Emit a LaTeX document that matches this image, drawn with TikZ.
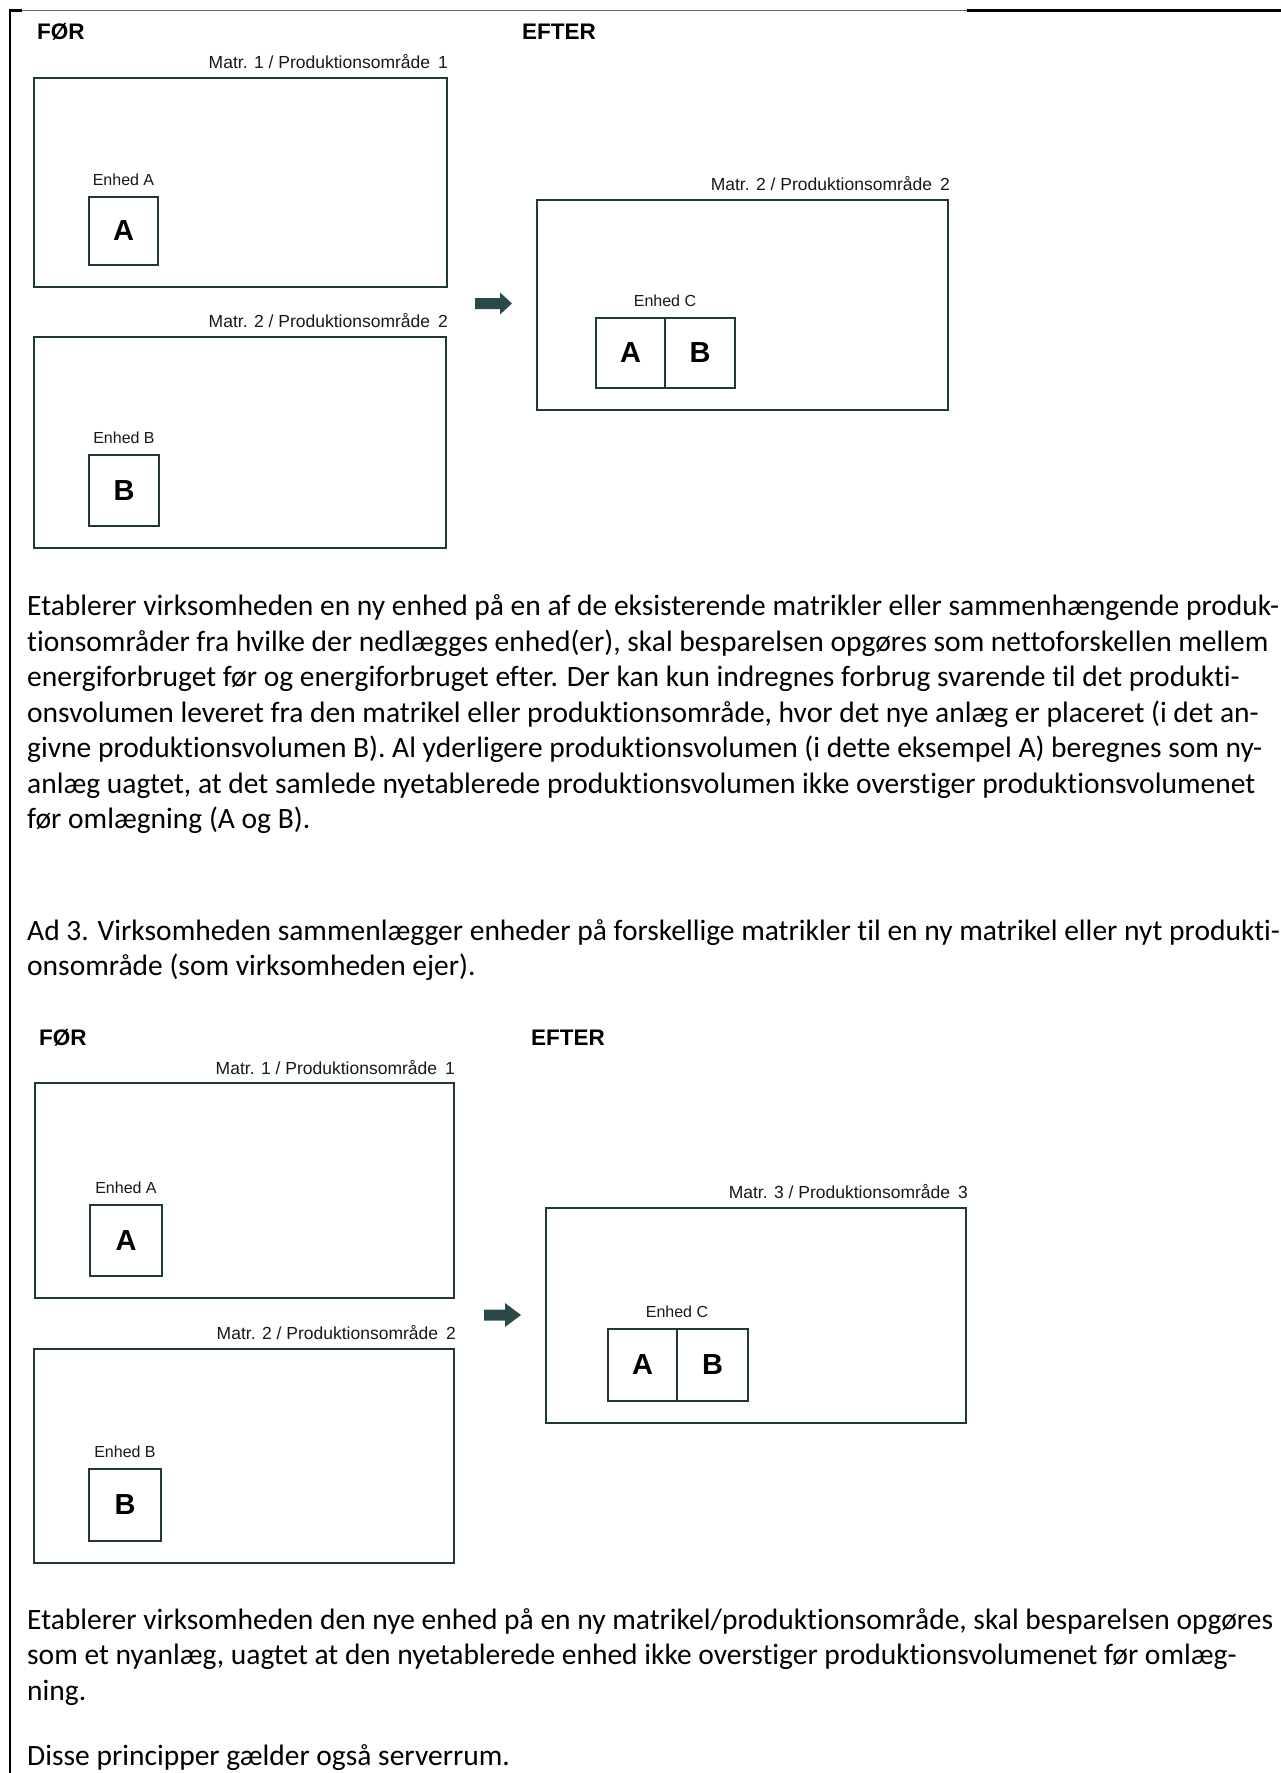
\documentclass[tikz,border=0pt]{standalone}
\usepackage{fontspec}
\setmainfont{Carlito}[RawFeature={-liga}]
\newfontfamily\diagfont{Liberation Sans}
\definecolor{boxcol}{RGB}{32,56,56}
\definecolor{arrcol}{RGB}{42,74,74}
\definecolor{labcol}{RGB}{25,25,25}
\begin{document}
\begin{tikzpicture}[x=1pt,y=-1pt,
  bigbox/.style={draw=boxcol, line width=2.8pt, inner sep=0pt, outer sep=0pt},
  unitbox/.style={draw=boxcol, line width=2.4pt, inner sep=0pt, outer sep=0pt,
    text=black, font=\diagfont\fontsize{29}{29}\selectfont\bfseries},
  heading/.style={anchor=base west, inner sep=0pt, text=black,
    font=\diagfont\fontsize{22.5}{22.5}\selectfont\bfseries},
  matrlab/.style={anchor=base east, inner sep=0pt, text=labcol,
    font=\diagfont\fontsize{17.5}{17.5}\selectfont},
  enhlab/.style={anchor=base, inner sep=0pt, text=labcol,
    font=\diagfont\fontsize{16}{16}\selectfont},
  paraline/.style={anchor=base west, inner sep=0pt, text=black,
    font=\fontsize{29.5}{35}\selectfont},
  bigarrow/.style={fill=arrcol, draw=none}
]
\useasboundingbox (0,0) rectangle (1281,1773);
\fill[white] (0,0) rectangle (1281,1773);

% page frame lines
\draw[line width=1.3pt, black!60] (10,10.5) -- (967,10.5);
\draw[line width=2.6pt, black] (967,10.5) -- (1281,10.5);
\draw[line width=2.6pt, black] (8.7,10.5) -- (22,10.5);
\draw[line width=2.6pt, black] (10,9.2) -- (10,1780);

% ===== first diagram =====
\node[heading] (for1) at (37,39) {FØR};
\node[heading] (efter1) at (522,39) {EFTER};

\node[bigbox, minimum width=413pt, minimum height=209pt] (b1) at (240.5,182.5) {};
\node[matrlab] (m1) at ([xshift=1pt,yshift=10pt]b1.north east) {Matr. 1 / Produktionsområde\hspace{0.45em}1};
\node[unitbox, minimum width=69pt, minimum height=68pt] (ua1) at (123.5,231) {A};
\node[enhlab] (ea1) at ([yshift=12pt]ua1.north) {Enhed A};

\node[bigbox, minimum width=412pt, minimum height=211pt] (b2) at (240,442.5) {};
\node[matrlab] (m2) at ([xshift=2pt,yshift=10pt]b2.north east) {Matr. 2 / Produktionsområde\hspace{0.45em}2};
\node[unitbox, minimum width=70pt, minimum height=71pt] (ub1) at (124,490.5) {B};
\node[enhlab] (eb1) at ([yshift=12pt]ub1.north) {Enhed B};

\fill[bigarrow] (475,298) -- (500,298) -- (500,292.5) -- (512,303.5) -- (500,314.5) -- (500,309) -- (475,309) -- cycle;

\node[bigbox, minimum width=411pt, minimum height=210pt] (b3) at (742.5,305) {};
\node[matrlab] (m3) at ([xshift=2pt,yshift=10pt]b3.north east) {Matr. 2 / Produktionsområde\hspace{0.45em}2};
\node[unitbox, minimum width=69pt, minimum height=70pt] (uca1) at (630.5,353) {A};
\node[unitbox, minimum width=70pt, minimum height=70pt] (ucb1) at (700,353) {B};
\node[enhlab] (ec1) at ([yshift=12pt]uca1.north east) {Enhed C};

% ===== paragraph 1 =====
\node[paraline] (p1a) at (27,615.5) {Etablerer virksomheden en ny enhed på en af de eksisterende matrikler eller sammenhængende produk-};
\node[paraline] (p1b) at (27,651) {tionsområder fra hvilke der nedlægges enhed(er), skal besparelsen opgøres som nettoforskellen mellem};
\node[paraline] (p1c) at (27,686.5) {energiforbruget før og energiforbruget efter. Der kan kun indregnes forbrug svarende til det produkti-};
\node[paraline] (p1d) at (27,722) {onsvolumen leveret fra den matrikel eller produktionsområde, hvor det nye anlæg er placeret (i det an-};
\node[paraline] (p1e) at (27,757.5) {givne produktionsvolumen B). Al yderligere produktionsvolumen (i dette eksempel A) beregnes som ny-};
\node[paraline] (p1f) at (27,793) {anlæg uagtet, at det samlede nyetablerede produktionsvolumen ikke overstiger produktionsvolumenet};
\node[paraline] (p1g) at (27,828.5) {før omlægning (A og B).};

% ===== paragraph 2 =====
\node[paraline] (p2a) at (27,940) {Ad 3. Virksomheden sammenlægger enheder på forskellige matrikler til en ny matrikel eller nyt produkti-};
\node[paraline] (p2b) at (27,975.5) {onsområde (som virksomheden ejer).};

% ===== second diagram =====
\node[heading] (for2) at (39,1045) {FØR};
\node[heading] (efter2) at (531,1045) {EFTER};

\node[bigbox, minimum width=419pt, minimum height=215pt] (b4) at (244.5,1190.5) {};
\node[matrlab] (m4) at ([xshift=1pt,yshift=9pt]b4.north east) {Matr. 1 / Produktionsområde\hspace{0.45em}1};
\node[unitbox, minimum width=72pt, minimum height=71pt] (ua2) at (126,1240.5) {A};
\node[enhlab] (ea2) at ([yshift=12pt]ua2.north) {Enhed A};

\node[bigbox, minimum width=420pt, minimum height=214pt] (b5) at (244,1456) {};
\node[matrlab] (m5) at ([xshift=2pt,yshift=10pt]b5.north east) {Matr. 2 / Produktionsområde\hspace{0.45em}2};
\node[unitbox, minimum width=72pt, minimum height=72pt] (ub2) at (125,1505) {B};
\node[enhlab] (eb2) at ([yshift=12pt]ub2.north) {Enhed B};

\fill[bigarrow] (484,1309.5) -- (505,1309.5) -- (505,1303) -- (521,1315) -- (505,1327) -- (505,1320.5) -- (484,1320.5) -- cycle;

\node[bigbox, minimum width=420pt, minimum height=215pt] (b6) at (756,1315.5) {};
\node[matrlab] (m6) at ([xshift=2pt,yshift=10pt]b6.north east) {Matr. 3 / Produktionsområde\hspace{0.45em}3};
\node[unitbox, minimum width=69pt, minimum height=72pt] (uca2) at (642.5,1365) {A};
\node[unitbox, minimum width=71pt, minimum height=72pt] (ucb2) at (712.5,1365) {B};
\node[enhlab] (ec2) at ([yshift=12pt]uca2.north east) {Enhed C};

% ===== paragraph 3 =====
\node[paraline] (p3a) at (27,1629) {Etablerer virksomheden den nye enhed på en ny matrikel/produktionsområde, skal besparelsen opgøres};
\node[paraline] (p3b) at (27,1664.5) {som et nyanlæg, uagtet at den nyetablerede enhed ikke overstiger produktionsvolumenet før omlæg-};
\node[paraline] (p3c) at (27,1700) {ning.};
\node[paraline] (p4a) at (27,1765.5) {Disse principper gælder også serverrum.};
\end{tikzpicture}
\end{document}
